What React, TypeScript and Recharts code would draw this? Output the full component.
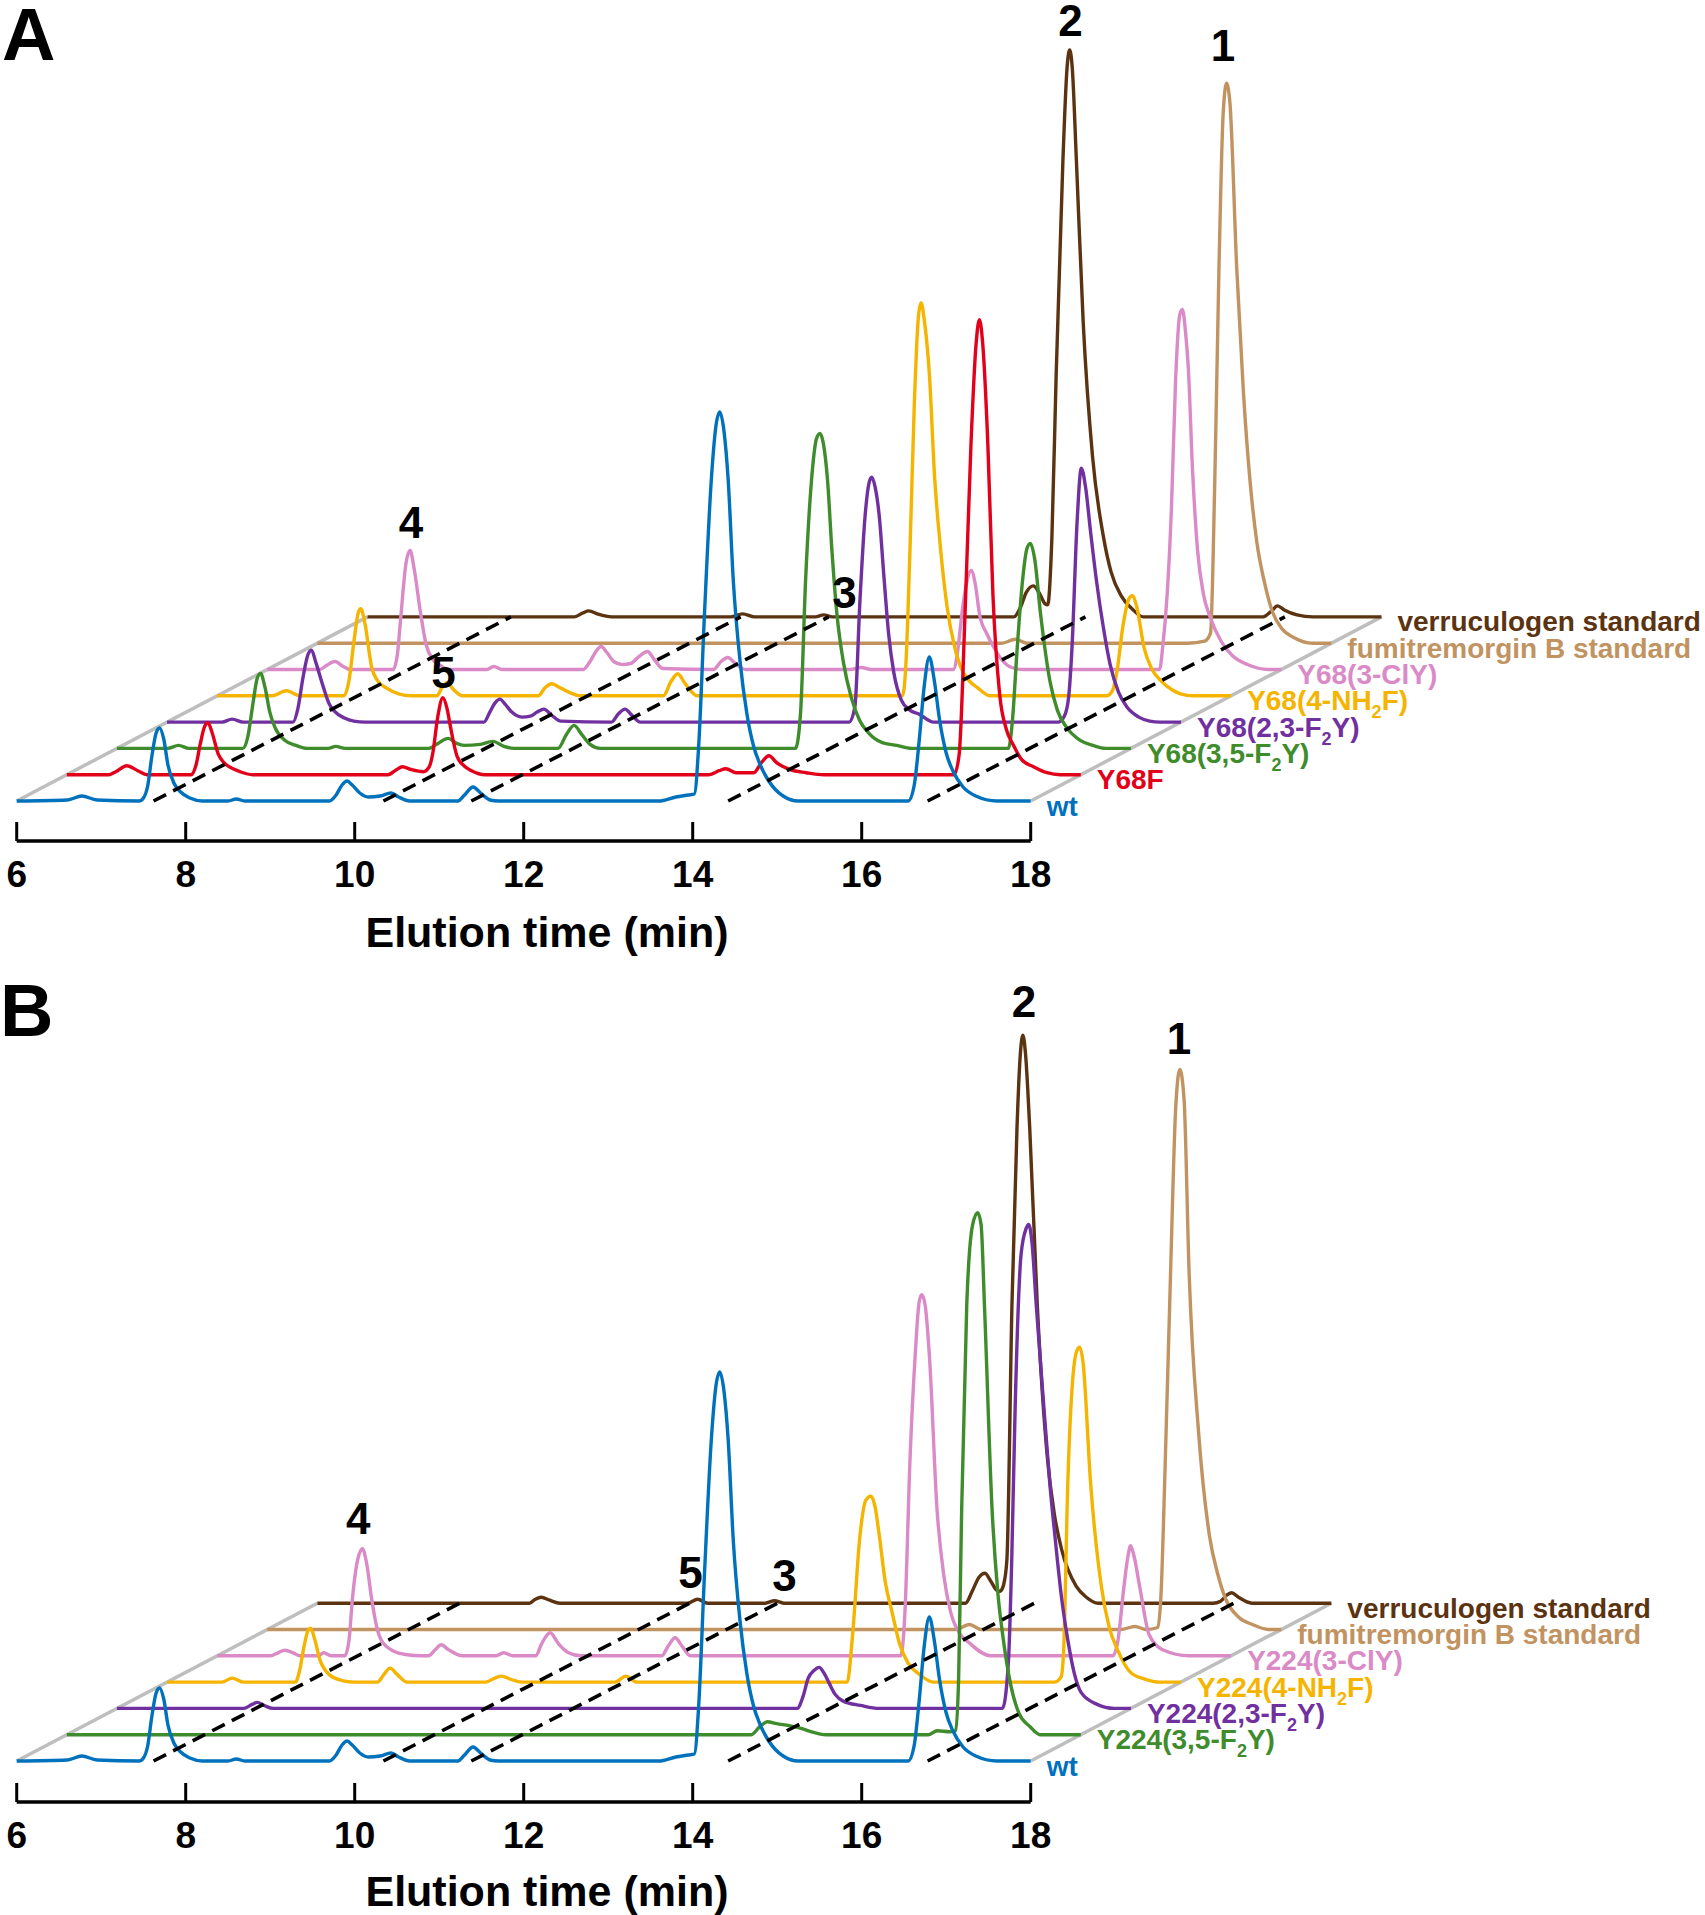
import React from 'react';
import { LineChart, Line, XAxis, YAxis, ReferenceLine, ReferenceDot } from 'recharts';

type Pt = [number, number];

// ---------- data (time in min, signal above each trace's own baseline, arbitrary units) ----------
const TIME_TICKS = [6, 8, 10, 12, 14, 16, 18];
const MARKER_TIMES = [7.62, 10.34, 11.38, 14.42, 16.78];

const WT: Pt[] = [
  [6.0, 0], [6.6, 1], [6.77, 5], [6.95, 1], [7.45, 0], [7.5, 3], [7.55, 15], [7.6, 45], [7.65, 68], [7.69, 73], [7.74, 62], [7.79, 36], [7.86, 18], [7.94, 9], [8.05, 3], [8.2, 0],
  [8.5, 0], [8.6, 2], [8.7, 0], [9.7, 0], [9.78, 6], [9.85, 16], [9.91, 20], [9.97, 16], [10.06, 8], [10.16, 4], [10.3, 5], [10.43, 8], [10.52, 4], [10.65, 0],
  [11.22, 0], [11.3, 6], [11.4, 14], [11.49, 8], [11.6, 1], [11.7, 0], [13.6, 0], [13.8, 4], [13.95, 6], [14.02, 7],
  [14.07, 54], [14.14, 188], [14.22, 321], [14.28, 378], [14.32, 389], [14.37, 370], [14.42, 321], [14.48, 221], [14.56, 140], [14.64, 88], [14.72, 55], [14.79, 38], [14.9, 20], [15.07, 5], [15.25, 0],
  [16.55, 0], [16.62, 15], [16.68, 60], [16.74, 115], [16.8, 144], [16.86, 120], [16.92, 82], [17.0, 48], [17.08, 30], [17.2, 14], [17.35, 5], [17.6, 0], [18, 0],
];

const A_Y68F: Pt[] = [
  [6.0, 0], [6.5, 0], [6.58, 3], [6.71, 9], [6.84, 4], [6.95, 0], [7.47, 0], [7.53, 10], [7.58, 31], [7.63, 48], [7.67, 52], [7.72, 42], [7.79, 21], [7.86, 12], [7.92, 8], [8.05, 3], [8.2, 0],
  [9.8, 0], [9.9, 5], [9.97, 8], [10.08, 5], [10.22, 3], [10.29, 8], [10.33, 21], [10.39, 58], [10.45, 77], [10.5, 66], [10.54, 48], [10.62, 18], [10.7, 9], [10.79, 4], [10.95, 0],
  [13.6, 0], [13.72, 4], [13.8, 6], [13.92, 2], [14.13, 2], [14.22, 12], [14.31, 19], [14.4, 12], [14.56, 5], [14.75, 2], [14.96, 0],
  [16.5, 0], [16.56, 20], [16.63, 161], [16.7, 330], [16.76, 430], [16.8, 455], [16.84, 430], [16.9, 330], [16.96, 180], [17.04, 80], [17.12, 45], [17.2, 30], [17.3, 15], [17.44, 8], [17.6, 2], [17.76, 0], [18, 0],
];

const A_Y68_35F2Y: Pt[] = [
  [6.0, 0], [6.6, 0], [6.73, 3], [6.85, 0], [7.49, 0], [7.55, 12], [7.61, 45], [7.66, 70], [7.7, 75], [7.75, 62], [7.81, 36], [7.87, 21], [7.99, 8], [8.12, 3], [8.25, 0],
  [8.5, 0], [8.59, 2], [8.7, 0], [9.69, 0], [9.8, 5], [9.92, 10], [10.02, 5], [10.11, 3], [10.3, 4], [10.45, 7], [10.58, 2], [10.7, 0],
  [11.22, 0], [11.32, 14], [11.41, 23], [11.5, 14], [11.6, 4], [11.72, 0],
  [14.03, 0], [14.09, 35], [14.15, 168], [14.22, 268], [14.28, 310], [14.32, 315], [14.36, 305], [14.41, 268], [14.46, 200], [14.52, 135], [14.6, 85], [14.69, 51], [14.79, 28], [14.9, 15], [15.05, 6], [15.23, 3], [15.4, 0],
  [16.55, 0], [16.6, 30], [16.65, 95], [16.72, 170], [16.77, 200], [16.81, 205], [16.86, 190], [16.93, 135], [17.04, 68], [17.13, 38], [17.24, 21], [17.4, 8], [17.55, 3], [17.7, 0], [18, 0],
];

const A_Y68_23F2Y: Pt[] = [
  [6.0, 0], [6.65, 0], [6.77, 3], [6.9, 0], [7.49, 0], [7.55, 14], [7.61, 45], [7.67, 68], [7.71, 72], [7.76, 60], [7.85, 35], [7.92, 18], [7.98, 11], [8.1, 4], [8.21, 1], [8.35, 0],
  [9.75, 0], [9.82, 10], [9.88, 19], [9.94, 23], [10.0, 18], [10.08, 10], [10.2, 5], [10.3, 6], [10.38, 10], [10.46, 13], [10.55, 7], [10.66, 1],
  [11.26, 0], [11.34, 8], [11.42, 13], [11.5, 7], [11.6, 0],
  [14.07, 0], [14.14, 15], [14.2, 121], [14.26, 205], [14.31, 240], [14.34, 245], [14.38, 235], [14.43, 205], [14.48, 150], [14.54, 88], [14.6, 50], [14.69, 22], [14.79, 12], [14.9, 8], [15.07, 0],
  [16.55, 0], [16.62, 6], [16.67, 25], [16.71, 75], [16.77, 200], [16.82, 254], [16.87, 235], [16.93, 190], [17.0, 141], [17.08, 95], [17.16, 58], [17.26, 30], [17.36, 15], [17.5, 5], [17.63, 1], [17.75, 0], [18, 0],
];

const A_Y68_NH2F: Pt[] = [
  [6.0, 0], [6.65, 0], [6.82, 5], [6.98, 0], [7.5, 0], [7.56, 15], [7.62, 55], [7.67, 83], [7.7, 87], [7.75, 72], [7.83, 28], [7.9, 15], [8.0, 8], [8.15, 2], [8.3, 0],
  [8.6, 0], [8.66, 8], [8.72, 13], [8.8, 6], [8.9, 0], [9.8, 0], [9.88, 8], [9.96, 12], [10.06, 8], [10.18, 3], [10.29, 0],
  [11.28, 0], [11.37, 14], [11.45, 22], [11.54, 12], [11.68, 0],
  [14.11, 0], [14.15, 30], [14.2, 148], [14.25, 290], [14.3, 380], [14.33, 393], [14.37, 375], [14.43, 320], [14.49, 220], [14.56, 148], [14.64, 88], [14.73, 48], [14.82, 25], [14.9, 15], [15.0, 8], [15.15, 0],
  [16.53, 0], [16.6, 6], [16.65, 25], [16.72, 70], [16.79, 97], [16.83, 100], [16.88, 90], [16.97, 48], [17.06, 27], [17.17, 15], [17.3, 6], [17.4, 2], [17.55, 0], [18, 0],
];

const A_Y68_CLY: Pt[] = [
  [6.0, 0], [6.62, 0], [6.7, 4], [6.8, 8], [6.9, 3], [6.98, 0], [7.49, 0], [7.54, 15], [7.58, 52], [7.64, 105], [7.69, 119], [7.74, 100], [7.81, 59], [7.88, 25], [7.96, 10], [8.05, 4], [8.15, 0],
  [8.6, 0], [8.68, 3], [8.78, 0], [9.74, 0], [9.82, 8], [9.89, 18], [9.95, 23], [10.02, 17], [10.1, 8], [10.2, 5], [10.3, 6], [10.4, 13], [10.5, 18], [10.58, 10], [10.68, 1],
  [11.28, 0], [11.37, 8], [11.45, 12], [11.54, 6], [11.66, 0], [12.9, 0], [13.03, 2], [13.15, 0],
  [14.12, 0], [14.17, 18], [14.22, 55], [14.28, 88], [14.33, 99], [14.38, 85], [14.43, 55], [14.52, 35], [14.6, 22], [14.7, 9], [14.81, 2], [14.95, 0],
  [16.56, 0], [16.6, 25], [16.65, 75], [16.7, 160], [16.75, 290], [16.8, 355], [16.83, 360], [16.87, 335], [16.9, 302], [16.95, 200], [17.01, 119], [17.08, 75], [17.16, 52], [17.29, 28], [17.42, 14], [17.6, 5], [17.85, 0], [18, 0],
];

const A_FUMB: Pt[] = [
  [6.0, 0], [14.1, 0], [14.26, 4], [14.4, 0], [16.3, 0], [16.5, 2], [16.57, 10], [16.62, 160], [16.67, 375], [16.72, 530], [16.76, 560], [16.8, 540], [16.88, 375], [16.96, 250], [17.04, 160], [17.12, 100], [17.2, 64], [17.3, 32], [17.41, 15], [17.55, 6], [17.78, 0], [18, 0],
];

const A_VERR: Pt[] = [
  [6.0, 0], [8.45, 0], [8.55, 4], [8.62, 6], [8.72, 3], [8.89, 0], [10.3, 0], [10.44, 3], [10.58, 0], [11.3, 0], [11.4, 2], [11.5, 0],
  [13.65, 0], [13.72, 8], [13.8, 25], [13.88, 31], [13.95, 24], [14.02, 13], [14.05, 12], [14.1, 80], [14.15, 241], [14.23, 456], [14.28, 550], [14.31, 567], [14.34, 550], [14.39, 456], [14.47, 295], [14.58, 161], [14.71, 80], [14.8, 45], [14.92, 21], [15.05, 8], [15.18, 0],
  [16.6, 0], [16.7, 6], [16.77, 11], [16.85, 7], [17.0, 2], [17.19, 0], [18, 0],
];

const B_Y224_35F2Y: Pt[] = [
  [6.0, 0], [14.1, 0], [14.2, 8], [14.29, 13], [14.4, 11], [14.55, 9], [14.7, 6], [14.85, 2], [14.98, 0], [16.2, 0], [16.3, 4], [16.45, 3], [16.52, 4],
  [16.555, 60], [16.59, 225], [16.65, 429], [16.72, 510], [16.78, 522], [16.82, 510], [16.86, 429], [16.95, 225], [17.02, 140], [17.08, 97], [17.17, 50], [17.27, 21], [17.4, 8], [17.52, 0], [18, 0],
];

const B_Y224_23F2Y: Pt[] = [
  [6.0, 0], [7.5, 0], [7.6, 4], [7.66, 6], [7.74, 3], [7.85, 0],
  [14.05, 0], [14.12, 12], [14.18, 30], [14.25, 38], [14.31, 41], [14.37, 35], [14.43, 25], [14.5, 14], [14.6, 7], [14.8, 3], [15.02, 0],
  [16.48, 0], [16.55, 46], [16.59, 150], [16.63, 301], [16.7, 454], [16.76, 480], [16.79, 484], [16.83, 465], [16.88, 403], [16.97, 301], [17.04, 225], [17.1, 173], [17.18, 110], [17.25, 70], [17.33, 35], [17.41, 16], [17.6, 4], [17.8, 0], [18, 0],
];

const B_Y224_NH2F: Pt[] = [
  [6.0, 0], [6.65, 0], [6.77, 4], [6.9, 0], [7.52, 0], [7.57, 12], [7.62, 35], [7.67, 52], [7.7, 54], [7.75, 42], [7.81, 22], [7.88, 11], [7.96, 5], [8.21, 0],
  [8.49, 0], [8.57, 8], [8.64, 14], [8.72, 8], [8.84, 0], [9.77, 0], [9.88, 4], [9.96, 6], [10.06, 3], [10.2, 0], [11.3, 0], [11.43, 6], [11.56, 0],
  [14.05, 0], [14.11, 44], [14.2, 146], [14.27, 182], [14.33, 186], [14.38, 175], [14.43, 146], [14.5, 100], [14.58, 70], [14.67, 38], [14.77, 19], [14.9, 8], [15.07, 0],
  [16.5, 0], [16.58, 5], [16.61, 30], [16.66, 199], [16.72, 305], [16.77, 332], [16.8, 335], [16.84, 320], [16.93, 199], [17.06, 94], [17.15, 55], [17.25, 32], [17.4, 10], [17.57, 3], [17.75, 0], [18, 0],
];

const B_Y224_CLY: Pt[] = [
  [6.0, 0], [6.63, 0], [6.72, 3], [6.8, 5.5], [6.9, 3], [6.98, 0], [7.2, 0], [7.26, 3], [7.35, 0],
  [7.51, 0], [7.56, 15], [7.6, 56], [7.66, 95], [7.72, 107], [7.77, 92], [7.83, 56], [7.9, 25], [7.94, 16], [8.08, 5], [8.25, 1], [8.41, 0],
  [8.5, 0], [8.58, 6], [8.65, 11], [8.74, 6], [8.9, 0], [9.3, 0], [9.39, 3], [9.5, 0], [9.77, 0], [9.84, 12], [9.94, 23], [10.04, 12], [10.16, 3], [10.3, 0],
  [11.26, 0], [11.34, 10], [11.42, 18], [11.5, 10], [11.6, 0],
  [14.09, 0], [14.14, 44], [14.2, 197], [14.26, 299], [14.31, 355], [14.34, 361], [14.38, 350], [14.43, 299], [14.52, 146], [14.6, 80], [14.68, 44], [14.79, 22], [14.9, 13], [15.15, 0],
  [16.6, 0], [16.66, 15], [16.73, 68], [16.78, 100], [16.81, 110], [16.85, 100], [16.92, 68], [17.03, 21], [17.19, 6], [17.5, 0], [18, 0],
];

const B_FUMB: Pt[] = [
  [6.0, 0], [14.15, 0], [14.31, 5], [14.45, 0], [16.1, 0], [16.27, 3], [16.4, 0], [16.54, 2], [16.58, 40], [16.62, 146], [16.69, 356], [16.75, 520], [16.8, 560], [16.85, 530], [16.91, 356], [17.02, 199], [17.15, 94], [17.25, 55], [17.34, 31], [17.5, 12], [17.66, 5], [17.85, 0], [18, 0],
];

const B_VERR: Pt[] = [
  [6.0, 0], [8.51, 0], [8.58, 4], [8.65, 6], [8.75, 3], [8.87, 0], [10.38, 0], [10.5, 4], [10.62, 0], [11.3, 0], [11.41, 2.5], [11.52, 0],
  [13.67, 0], [13.75, 12], [13.83, 26], [13.9, 30], [13.97, 22], [14.04, 13], [14.08, 12], [14.12, 18], [14.16, 43], [14.22, 298], [14.28, 476], [14.32, 550], [14.35, 568], [14.38, 550], [14.43, 476], [14.52, 298], [14.64, 145], [14.72, 90], [14.81, 53], [14.98, 17], [15.1, 6], [15.24, 0],
  [16.6, 0], [16.69, 2], [16.76, 8], [16.82, 10.5], [16.9, 6], [17.06, 0], [18, 0],
];

const A_NAMES = ['wt', 'Y68F', 'Y68(3,5-F_2Y)', 'Y68(2,3-F_2Y)', 'Y68(4-NH_2F)', 'Y68(3-ClY)', 'fumitremorgin B standard', 'verruculogen standard'];
const A_SERIES = [WT, A_Y68F, A_Y68_35F2Y, A_Y68_23F2Y, A_Y68_NH2F, A_Y68_CLY, A_FUMB, A_VERR];
const B_NAMES = ['wt', 'Y224(3,5-F_2Y)', 'Y224(2,3-F_2Y)', 'Y224(4-NH_2F)', 'Y224(3-ClY)', 'fumitremorgin B standard', 'verruculogen standard'];
const B_SERIES = [WT, B_Y224_35F2Y, B_Y224_23F2Y, B_Y224_NH2F, B_Y224_CLY, B_FUMB, B_VERR];

// peak numbers: trace index, time, height above that trace's baseline
const A_PEAKS = [
  { id: '4', trace: 5, t: 7.7, h: 148 },
  { id: '5', trace: 1, t: 10.457, h: 103 },
  { id: '3', trace: 7, t: 11.646, h: 25 },
  { id: '2', trace: 7, t: 14.321, h: 597 },
  { id: '1', trace: 6, t: 16.718, h: 598 },
];
const B_PEAKS = [
  { id: '4', trace: 4, t: 7.669, h: 138 },
  { id: '5', trace: 6, t: 10.416, h: 31 },
  { id: '3', trace: 6, t: 11.528, h: 28 },
  { id: '2', trace: 6, t: 14.363, h: 602 },
  { id: '1', trace: 5, t: 16.789, h: 592 },
];

// ---------- styles / layout ----------
const FONT = '"Liberation Sans", Arial, Helvetica, sans-serif';
const C = {
  blue: '#0071BC', red: '#E2001A', green: '#3F8C2C', purple: '#7030A0', yellow: '#F5B400',
  pink: '#DA8AC6', tan: '#C19361', brown: '#5B3311', grey: '#BEBEBE',
};
const A_COLORS = [C.blue, C.red, C.green, C.purple, C.yellow, C.pink, C.tan, C.brown];
const B_COLORS = [C.blue, C.green, C.purple, C.yellow, C.pink, C.tan, C.brown];

const DX = 0.593; // min shift per trace (3D offset)
const DY = 26.3; // signal shift per trace
const DASH_DX = 0.604;
const PX_PER_MIN = 84.5;
const X0PX = 16.7;
const XMIN = 6 - X0PX / PX_PER_MIN;
const XMAX = XMIN + 1705 / PX_PER_MIN;
const YMAX = 801;

function splitName(name: string) {
  const segs: { s: string; sub: boolean }[] = [];
  const parts = name.split('_');
  parts.forEach((p, k) => {
    if (k === 0) { if (p) segs.push({ s: p, sub: false }); return; }
    segs.push({ s: p[0], sub: true });
    if (p.length > 1) segs.push({ s: p.slice(1), sub: false });
  });
  return segs;
}

function TraceName({ viewBox, name, color }: any) {
  const cx = viewBox.x + (viewBox.width || 0) / 2;
  const cy = viewBox.y + (viewBox.height || 0) / 2;
  const segs = splitName(name);
  let prevSub = false;
  return (
    <text x={cx + 16} y={cy + 14.5} fill={color} fontSize={28} fontWeight={700} fontFamily={FONT}>
      {segs.map((g, k) => {
        let dy = 0;
        if (g.sub && !prevSub) dy = 8;
        if (!g.sub && prevSub) dy = -8;
        prevSub = g.sub;
        return (
          <tspan key={k} dy={dy} fontSize={g.sub ? 18 : 28}>{g.s}</tspan>
        );
      })}
    </text>
  );
}

function PeakNum({ viewBox, id }: any) {
  const cx = viewBox.x + (viewBox.width || 0) / 2;
  const cy = viewBox.y + (viewBox.height || 0) / 2;
  return (
    <text x={cx} y={cy + 16} textAnchor="middle" fill="#000" fontSize={44} fontWeight={700} fontFamily={FONT}>{id}</text>
  );
}

function Panel({ series, names, colors, peaks, height, axisH, yMin, titleOffset }: any) {
  const n = series.length - 1;
  const order = series.map((s: Pt[], i: number) => i).reverse();
  return (
    <LineChart width={1705} height={height} margin={{ top: 0, right: 0, bottom: 0, left: 0 }}>
      <XAxis
        type="number" dataKey="x" domain={[XMIN, XMAX]} allowDataOverflow ticks={TIME_TICKS} interval={0}
        height={axisH} axisLine={false} tickLine={{ stroke: '#000', strokeWidth: 3 }} tickSize={-19} tickMargin={39}
        tick={{ fill: '#000', fontSize: 37, fontWeight: 700, fontFamily: FONT }}
        label={{
          content: (p: any) => (
            <text x={547} y={p.viewBox.y + p.viewBox.height - titleOffset} textAnchor="middle" fill="#000" fontSize={43} fontWeight={700} fontFamily={FONT}>
              Elution time (min)
            </text>
          ),
        }}
      />
      <YAxis type="number" domain={[yMin, YMAX]} allowDataOverflow hide width={0} />
      <ReferenceLine segment={[{ x: 6, y: 0 }, { x: 6 + n * DX, y: n * DY }]} stroke={C.grey} strokeWidth={3.5} />
      <ReferenceLine segment={[{ x: 18, y: 0 }, { x: 18 + n * DX, y: n * DY }]} stroke={C.grey} strokeWidth={3.5} />
      <ReferenceLine segment={[{ x: 6, y: yMin }, { x: 18, y: yMin }]} stroke="#000" strokeWidth={3.5} />
      {order.map((i: number) => (
        <Line
          key={'l' + i}
          data={series[i].map(([t, h]: Pt) => ({ x: t + i * DX, y: h + i * DY }))}
          dataKey="y" type="monotone" stroke={colors[i]} strokeWidth={3.4} dot={false} activeDot={false}
          isAnimationActive={false} strokeLinejoin="round"
        />
      ))}
      {MARKER_TIMES.map((t, k) => (
        <ReferenceLine key={'d' + k} segment={[{ x: t, y: 0 }, { x: t + n * DASH_DX, y: n * DY }]} stroke="#000" strokeWidth={3.6} strokeDasharray="14 8" />
      ))}
      {names.map((nm: string, i: number) => (
        <ReferenceDot key={'n' + i} x={18 + i * DX} y={i * DY} r={1} fill="none" stroke="none"
          label={(p: any) => <TraceName viewBox={p.viewBox} name={nm} color={colors[i]} />} />
      ))}
      {peaks.map((pk: any) => (
        <ReferenceDot key={'p' + pk.id} x={pk.t + pk.trace * DX} y={pk.h + pk.trace * DY} r={1} fill="none" stroke="none"
          label={(p: any) => <PeakNum viewBox={p.viewBox} id={pk.id} />} />
      ))}
    </LineChart>
  );
}

export default function App() {
  return (
    <div style={{ position: 'absolute', left: 0, top: 0, width: 1705, height: 1915, background: '#fff', overflow: 'hidden' }}>
      <div style={{ position: 'absolute', left: 0, top: 0 }}>
        <Panel series={A_SERIES} names={A_NAMES} colors={A_COLORS} peaks={A_PEAKS} height={960} axisH={119} yMin={-40} titleOffset={12.7} />
      </div>
      <div style={{ position: 'absolute', left: 0, top: 960 }}>
        <Panel series={B_SERIES} names={B_NAMES} colors={B_COLORS} peaks={B_PEAKS} height={955} axisH={113} yMin={-41} titleOffset={9} />
      </div>
      <svg width={1705} height={1915} style={{ position: 'absolute', left: 0, top: 0, pointerEvents: 'none' }}>
        <text x={2} y={60} fontSize={74} fontWeight={700} fontFamily={FONT} fill="#000">A</text>
        <text x={0} y={1036} fontSize={74} fontWeight={700} fontFamily={FONT} fill="#000">B</text>
      </svg>
    </div>
  );
}
